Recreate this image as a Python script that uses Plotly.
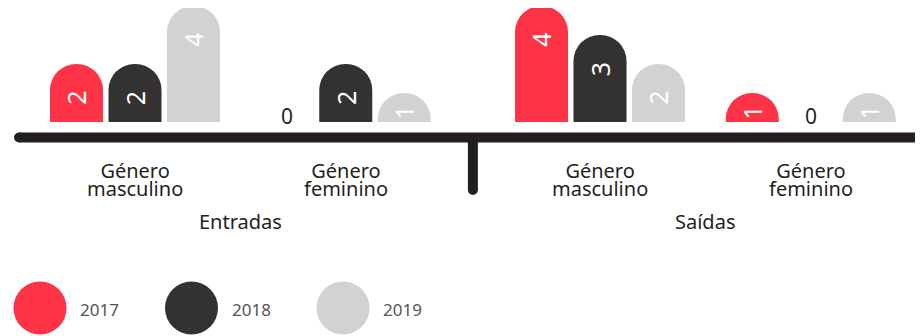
import plotly.graph_objects as go

# data
years = ["2017", "2018", "2019"]
colors = ["#fe3446", "#333132", "#d1d2d4"]
sections = ["Entradas", "Saídas"]
genders = [["Género", "masculino"], ["Género", "feminino"]]
# values per year, order: Entradas masc, Entradas fem, Saídas masc, Saídas fem
v2017 = [2, 0, 4, 1]
v2018 = [2, 2, 3, 0]
v2019 = [4, 1, 2, 1]
values = [v2017, v2018, v2019]

# layout helpers: coordinates are page pixels (page body has an 8px margin)
PAGE_W, PAGE_H = 923, 336
OFF = 8
W, H = PAGE_W - OFF, PAGE_H - OFF
BASE = 122      # page row of value 0
UNIT = 29       # pixels per unit
def yp(pix):
    return (BASE - pix) / UNIT

group_step = 210.75
section_gap = 43.5
first_center = 135
centers = []
for s in range(len(sections)):
    for g in range(len(genders)):
        centers.append(first_center + (s * 2 + g) * group_step + s * section_gap)
bar_step = 58.5
bar_w = 53

fig = go.Figure()
annotations = []
for i, yr in enumerate(years):
    xs = [c + (i - 1) * bar_step for c in centers]
    fig.add_trace(go.Bar(
        x=xs, y=values[i], width=bar_w, name=yr,
        marker=dict(color=colors[i], line=dict(width=0), cornerradius="50%"),
        hoverinfo="skip", showlegend=False,
    ))
    for x, v in zip(xs, values[i]):
        if v == 0:
            annotations.append(dict(x=x, y=0, text="0", showarrow=False, yanchor="bottom",
                                    yshift=-10, font=dict(size=21, color="#231f20", family="Noto Sans")))
        else:
            ly = max(v - 1.18, 0.34 * v)
            annotations.append(dict(x=x, y=ly, text=str(v), showarrow=False, textangle=-90,
                                    font=dict(size=25, color="white", family="Noto Sans")))

# two-line labels: small base font keeps the line step tight, span sets glyph size
txt = dict(family="Noto Sans", size=20, color="#231f20")
for k, c in enumerate(centers):
    lines = "<br>".join('<span style="font-size:20px">%s</span>' % w for w in genders[k % 2])
    annotations.append(dict(x=c, y=yp(179), text=lines, showarrow=False,
                            font=dict(family="Noto Sans", size=14, color="#231f20")))
for s, name in enumerate(sections):
    annotations.append(dict(x=(centers[2 * s] + centers[2 * s + 1]) / 2, y=yp(221), text=name,
                            showarrow=False, font=txt))

# legend drawn as large circles
leg_x = [40 + i * 151.5 for i in range(len(years))]
fig.add_trace(go.Scatter(
    x=leg_x, y=[yp(308)] * len(years), mode="markers", cliponaxis=False,
    marker=dict(size=53, color=colors, line=dict(width=0)),
    hoverinfo="skip", showlegend=False,
))
for x, yr in zip(leg_x, years):
    annotations.append(dict(x=x + 38, y=yp(309), text=yr, showarrow=False, xanchor="left",
                            font=dict(family="Noto Sans", size=17, color="#545456")))

line_col = "#231f20"
axis_y = yp(137.5)
div_x = (centers[1] + centers[2]) / 2
shapes = [
    dict(type="line", x0=19, x1=PAGE_W + 10, y0=axis_y, y1=axis_y, line=dict(color=line_col, width=10)),
    dict(type="circle", xsizemode="pixel", ysizemode="pixel", xanchor=19, yanchor=axis_y,
         x0=-5, x1=5, y0=-5, y1=5, fillcolor=line_col, line=dict(width=0)),
    dict(type="line", x0=div_x, x1=div_x, y0=axis_y, y1=yp(190), line=dict(color=line_col, width=10)),
    dict(type="circle", xsizemode="pixel", ysizemode="pixel", xanchor=div_x, yanchor=yp(190),
         x0=-5, x1=5, y0=-5, y1=5, fillcolor=line_col, line=dict(width=0)),
]

fig.update_layout(
    width=W, height=H, autosize=False,
    margin=dict(l=0, r=0, t=0, b=0),
    paper_bgcolor="white", plot_bgcolor="white",
    barmode="overlay",
    xaxis=dict(range=[OFF, PAGE_W], visible=False, fixedrange=True),
    yaxis=dict(range=[yp(OFF + H), yp(OFF)], visible=False, fixedrange=True),
    annotations=annotations, shapes=shapes,
)

fig.write_html("out.html")
